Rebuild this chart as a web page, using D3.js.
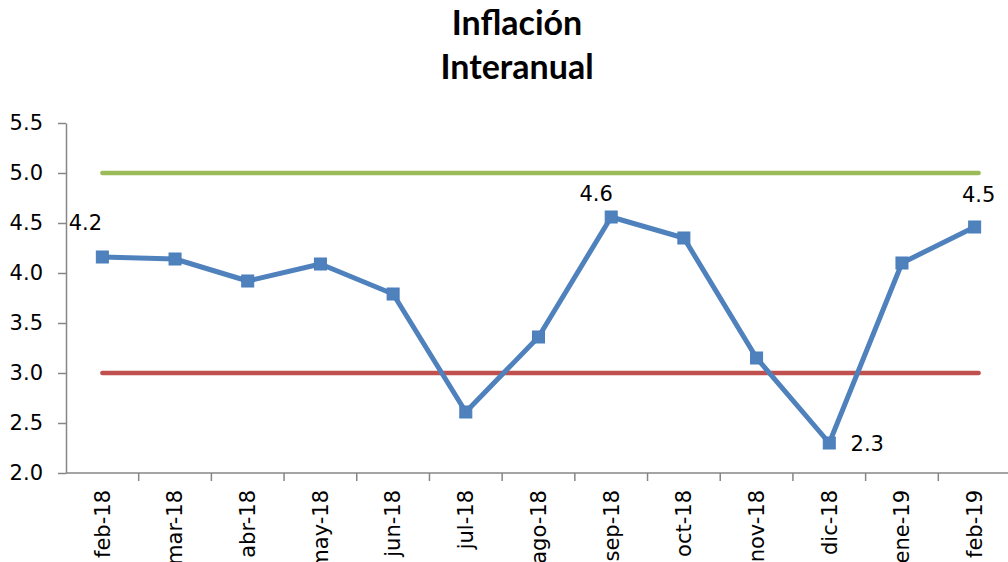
<!DOCTYPE html>
<html>
<head>
<meta charset="utf-8">
<script src="https://cdn.jsdelivr.net/npm/d3@7"></script>
<style>
  body { margin: 0; background: #fff; }
  .axis text { font-family: "DejaVu Sans", sans-serif; font-size: 21px; fill: #000; }
  .axis path, .axis line { stroke: #868686; stroke-width: 1.5; }
</style>
</head>
<body>
<div id="chart"></div>
<script>
// data
var months = ["feb-18", "mar-18", "abr-18", "may-18", "jun-18", "jul-18", "ago-18",
              "sep-18", "oct-18", "nov-18", "dic-18", "ene-19", "feb-19"];
var inflation = [4.16, 4.14, 3.92, 4.09, 3.79, 2.61, 3.36, 4.56, 4.35, 3.15, 2.30, 4.10, 4.46];
var upperLimit = 5.0;
var lowerLimit = 3.0;
var yTicks = [2.0, 2.5, 3.0, 3.5, 4.0, 4.5, 5.0, 5.5];
// which points carry a data label, and the label offset
var labelled = [
  {i: 0, dx: -17, dy: -27},
  {i: 7, dx: -15, dy: -16},
  {i: 10, dx: 38, dy: 8},
  {i: 12, dx: 4, dy: -25}
];

var W = 1008, H = 562;
var margin = {top: 123, left: 66, bottom: 89},
    plotRight = 1011;

var svg = d3.select("#chart")
  .append("svg")
    .attr("width", W)
    .attr("height", H);

var x = d3.scaleBand()
  .domain(months)
  .range([margin.left, plotRight]);

var y = d3.scaleLinear()
  .domain([2.0, 5.5])
  .range([H - margin.bottom, margin.top]);

// title
svg.append("text")
  .attr("x", 517).attr("y", 35)
  .attr("text-anchor", "middle")
  .style("font-family", "Lato, sans-serif")
  .style("font-weight", "bold")
  .style("font-size", "34px")
  .text("Inflación");
svg.append("text")
  .attr("x", 517).attr("y", 79)
  .attr("text-anchor", "middle")
  .style("font-family", "Lato, sans-serif")
  .style("font-weight", "bold")
  .style("font-size", "34px")
  .text("Interanual");

// y axis
svg.append("g")
  .attr("class", "axis")
  .attr("transform", "translate(" + margin.left + ",0)")
  .call(d3.axisLeft(y).tickValues(yTicks).tickFormat(d3.format(".1f"))
        .tickSize(8).tickSizeOuter(0).tickPadding(15));

// x axis: labels at the centres, ticks at the boundaries
var xAxis = svg.append("g")
  .attr("class", "axis")
  .attr("transform", "translate(0," + y(2.0) + ")");
xAxis.append("line")
  .attr("x1", margin.left).attr("x2", plotRight);
xAxis.selectAll(".bound")
  .data(months.slice(1).concat(["end"]))
  .enter().append("line")
    .attr("class", "bound")
    .attr("x1", function(d) { return d == "end" ? plotRight : x(d); })
    .attr("x2", function(d) { return d == "end" ? plotRight : x(d); })
    .attr("y1", 0).attr("y2", 8);
xAxis.selectAll(".lbl")
  .data(months)
  .enter().append("text")
    .attr("class", "lbl")
    .attr("transform", function(d) {
      return "translate(" + (x(d) + x.bandwidth() / 2) + ",17) rotate(-90)";
    })
    .attr("text-anchor", "end")
    .attr("dy", "0.35em")
    .text(function(d) { return d; });

// limit lines
var first = x(months[0]) + x.bandwidth() / 2,
    last = x(months[months.length - 1]) + x.bandwidth() / 2;
svg.append("line")
  .attr("x1", first).attr("x2", last + 4)
  .attr("y1", y(upperLimit)).attr("y2", y(upperLimit))
  .style("stroke", "#9bbb59").style("stroke-width", 4.5)
  .style("stroke-linecap", "round");
svg.append("line")
  .attr("x1", first).attr("x2", last + 4)
  .attr("y1", y(lowerLimit)).attr("y2", y(lowerLimit))
  .style("stroke", "#c0504d").style("stroke-width", 4.5)
  .style("stroke-linecap", "round");

// series
var line = d3.line()
  .x(function(d, i) { return x(months[i]) + x.bandwidth() / 2; })
  .y(function(d) { return y(d); });

svg.append("path")
  .datum(inflation)
  .attr("d", line)
  .style("fill", "none")
  .style("stroke", "#4f81bd")
  .style("stroke-width", 5)
  .style("stroke-linejoin", "round");

svg.selectAll(".marker")
  .data(inflation)
  .enter().append("rect")
    .attr("class", "marker")
    .attr("x", function(d, i) { return x(months[i]) + x.bandwidth() / 2 - 6; })
    .attr("y", function(d) { return y(d) - 6; })
    .attr("width", 12).attr("height", 12)
    .style("fill", "#4f81bd")
    .style("stroke", "#4a7ebb")
    .style("stroke-width", 1);

// data labels
svg.selectAll(".dlabel")
  .data(labelled)
  .enter().append("text")
    .attr("class", "dlabel")
    .attr("x", function(d) { return x(months[d.i]) + x.bandwidth() / 2 + d.dx; })
    .attr("y", function(d) { return y(inflation[d.i]) + d.dy; })
    .attr("text-anchor", "middle")
    .style("font-family", "DejaVu Sans, sans-serif")
    .style("font-size", "21px")
    .text(function(d) { return d3.format(".1f")(inflation[d.i]); });
</script>
</body>
</html>
